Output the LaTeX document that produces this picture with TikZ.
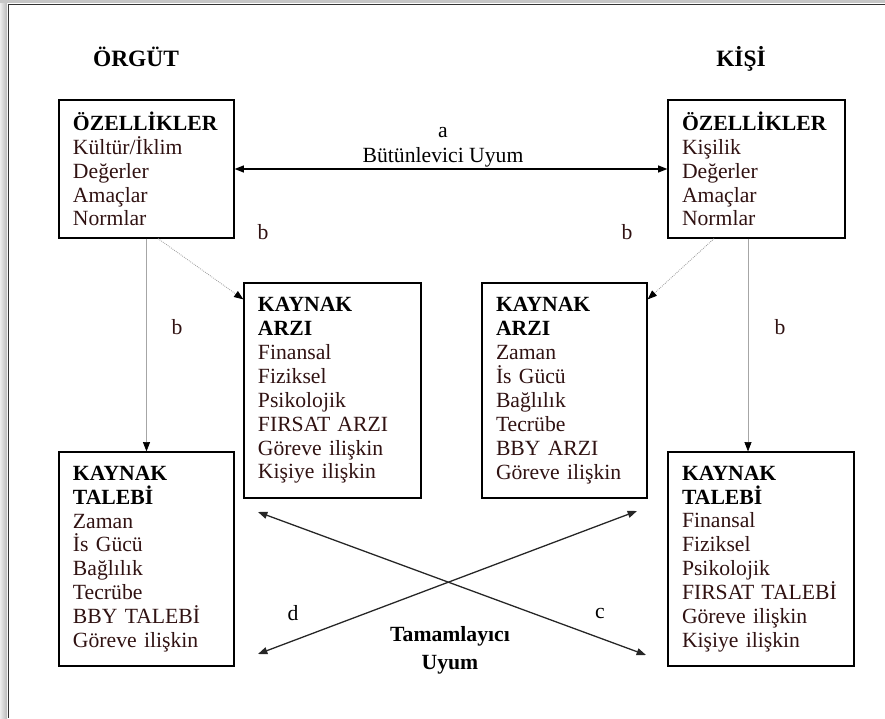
\documentclass[tikz,border=0pt]{standalone}
\usepackage{fontspec}
\setmainfont{Liberation Serif}
\usetikzlibrary{arrows.meta,calc}
\usepackage{xcolor}
\definecolor{bodytxt}{RGB}{48,18,18}
\newcommand{\hd}[1]{\textcolor{black}{\textbf{#1}}}

\begin{document}
\begin{tikzpicture}[x=0.03cm, y=-0.03cm,
  % Node Styles
  ybox/.style={rectangle, draw, line width=1pt, text=bodytxt, align=left, inner xsep=0.42cm, inner ysep=0pt},
  title/.style={font=\fontsize{20}{22}\selectfont\bfseries, text=black, anchor=base},
  lbl/.style={text=bodytxt, inner sep=1pt},
  % Arrow Styles
  harrow/.style={{Triangle[length=8pt,width=6pt]}-{Triangle[length=8pt,width=6pt]}, line width=1.1pt},
  barrow/.style={-{Triangle[length=8pt,width=6pt,color=black]}, gray!70, line width=0.6pt},
  darrow/.style={-{Triangle[length=8pt,width=6pt,color=black]}, gray!80, densely dotted, line width=0.7pt},
  xarrow/.style={{Triangle[length=8pt,width=6pt]}-{Triangle[length=8pt,width=6pt]}, black!85, line width=1.1pt}
]
\tikzset{font=\fontsize{18.5}{20.4}\selectfont}
\useasboundingbox (0,0) rectangle (885,718);

% window frame
\fill[left color=gray!15, right color=gray!55] (0,0) rectangle (7,718);
\fill[gray!45] (0,0) rectangle (885,3);
\draw[line width=1.3pt, black!80] (8.5,718) -- (8.5,4.5) -- (885,4.5);

% headings
\node[title] (org) at (136,66) {ÖRGÜT};
\node[title] (kisi) at (741,66) {KİŞİ};

% boxes
\node[ybox, minimum width=5.25cm, minimum height=4.14cm, text width=4.41cm] (O_ozl) at (146.5,169)
  {\hd{ÖZELLİKLER}\\ Kültür/İklim\\ Değerler\\ Amaçlar\\ Normlar};
\node[ybox, minimum width=5.31cm, minimum height=4.14cm, text width=4.47cm] (K_ozl) at (756.5,169)
  {\hd{ÖZELLİKLER}\\ Kişilik\\ Değerler\\ Amaçlar\\ Normlar};
\node[ybox, minimum width=5.31cm, minimum height=6.45cm, text width=4.47cm] (O_arz) at (332.5,390.5)
  {\hd{KAYNAK}\\ \hd{ARZI}\\ Finansal\\ Fiziksel\\ Psikolojik\\ FIRSAT ARZI\\ Göreve ilişkin\\ Kişiye ilişkin};
\node[ybox, minimum width=4.95cm, minimum height=6.45cm, text width=4.11cm] (K_arz) at (564.5,390.5)
  {\hd{KAYNAK}\\ \hd{ARZI}\\ Zaman\\ İs Gücü\\ Bağlılık\\ Tecrübe\\ BBY ARZI\\ Göreve ilişkin};
\node[ybox, minimum width=5.25cm, minimum height=6.42cm, text width=4.41cm] (O_tal) at (146.5,559)
  {\hd{KAYNAK}\\ \hd{TALEBİ}\\ Zaman\\ İs Gücü\\ Bağlılık\\ Tecrübe\\ BBY TALEBİ\\ Göreve ilişkin};
\node[ybox, minimum width=5.58cm, minimum height=6.42cm, text width=4.74cm] (K_tal) at (761,559)
  {\hd{KAYNAK}\\ \hd{TALEBİ}\\ Finansal\\ Fiziksel\\ Psikolojik\\ FIRSAT TALEBİ\\ Göreve ilişkin\\ Kişiye ilişkin};

% integrative fit
\draw[harrow] (O_ozl.east) -- (K_ozl.east -| K_ozl.west);
\node (a_lbl) at (443,133) {a};
\node (a_txt) at (443,157) {Bütünlevici Uyum};

% b links
\draw[barrow] (O_ozl.south) -- (O_tal.north);
\draw[barrow] ($(K_ozl.south)+(-8.5,0)$) -- ($(K_tal.north)+(-13,0)$);
\draw[darrow] ($(O_ozl.south)+(11.5,0)$) -- ($(O_arz.north west)+(0,17)$);
\draw[darrow] ($(K_ozl.south)+(-42.5,0)$) -- ($(K_arz.north east)+(0,17)$);
\node[lbl] (b1) at (263,232) {b};
\node[lbl] (b2) at (627,232) {b};
\node[lbl] (b3) at (177,327) {b};
\node[lbl] (b4) at (780,327) {b};

% complementary fit
\coordinate (x_ul) at (258,512);
\coordinate (x_ur) at (637,511);
\coordinate (x_ll) at (258,654);
\coordinate (x_lr) at (646,655);
\draw[xarrow] (x_ul) -- (x_lr);
\draw[xarrow] (x_ll) -- (x_ur);
\node (d_lbl) at (293,613) {d};
\node (c_lbl) at (600,613) {c};
\node[font=\fontsize{18.5}{24}\selectfont\bfseries, align=center] (tam) at (450,650) {Tamamlayıcı\\ Uyum};

\end{tikzpicture}
\end{document}
